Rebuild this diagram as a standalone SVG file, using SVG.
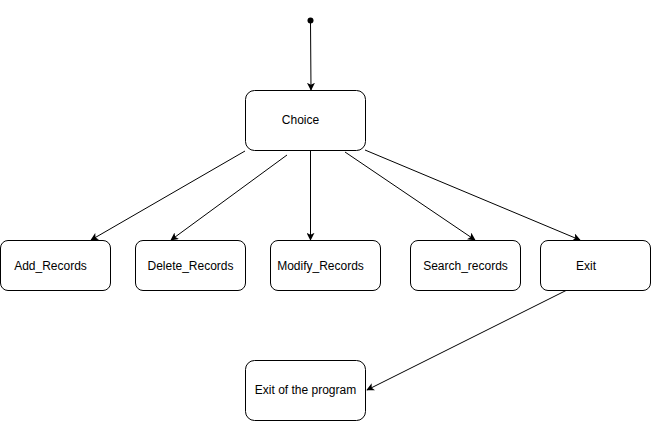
<svg xmlns="http://www.w3.org/2000/svg" width="651" height="421" viewBox="0 0 651 421">
<style>
.n{fill:#fff;stroke:#000;stroke-width:1}
.t{font-family:"Liberation Sans",Arial,sans-serif;font-size:12px;fill:#000;text-anchor:middle;dominant-baseline:central}
.e{stroke:#000;stroke-width:1;fill:none;marker-end:url(#a)}
</style>
<defs>
<marker id="a" viewBox="0 0 10 10" refX="9" refY="5" markerWidth="8" markerHeight="8" markerUnits="userSpaceOnUse" orient="auto">
<path d="M0,0 L10,5 L0,10 L2.5,5 Z" fill="#000"/>
</marker>
</defs>
<rect width="651" height="421" fill="#fff"/>
<g id="edges">
<circle cx="310.5" cy="20.5" r="3" fill="#000"/>
<line class="e" x1="310.5" y1="22" x2="311" y2="90"/>
<line class="e" x1="245" y1="151" x2="91" y2="240"/>
<line class="e" x1="287" y1="155" x2="171" y2="240"/>
<line class="e" x1="310.5" y1="150" x2="310.5" y2="240"/>
<line class="e" x1="345" y1="152" x2="475" y2="240"/>
<line class="e" x1="365" y1="150" x2="580" y2="240"/>
<line class="e" x1="567" y1="290" x2="367" y2="390"/>
</g>
<g id="choice"><rect class="n" x="245.5" y="90.5" width="120" height="60" rx="9"/><text class="t" x="300.5" y="120">Choice</text></g>
<g id="add"><rect class="n" x="0.5" y="240.5" width="110" height="50" rx="7.5"/><text class="t" x="50.5" y="265.5">Add_Records</text></g>
<g id="delete"><rect class="n" x="135.5" y="240.5" width="110" height="50" rx="7.5"/><text class="t" x="190.5" y="265.5">Delete_Records</text></g>
<g id="modify"><rect class="n" x="270.5" y="240.5" width="110" height="50" rx="7.5"/><text class="t" x="320.5" y="265.5">Modify_Records</text></g>
<g id="search"><rect class="n" x="410.5" y="240.5" width="110" height="50" rx="7.5"/><text class="t" x="465.5" y="265.5">Search_records</text></g>
<g id="exit"><rect class="n" x="540.5" y="240.5" width="110" height="50" rx="7.5"/><text class="t" x="586" y="265.5">Exit</text></g>
<g id="exitprog"><rect class="n" x="245.5" y="360.5" width="120" height="60" rx="9"/><text class="t" x="305.5" y="390">Exit of the program</text></g>
</svg>
